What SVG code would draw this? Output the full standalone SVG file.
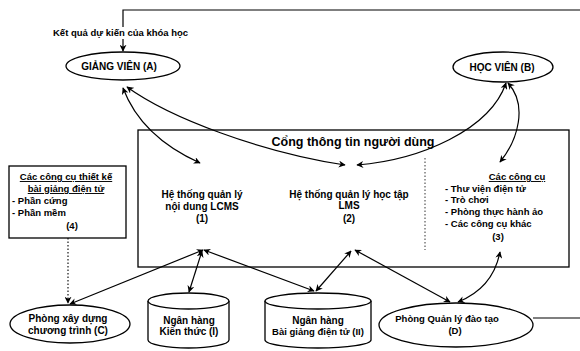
<svg xmlns="http://www.w3.org/2000/svg" width="580" height="351" viewBox="0 0 580 351">
<defs>
<marker id="arr" viewBox="0 0 10 10" refX="9" refY="5" markerWidth="7" markerHeight="7" orient="auto-start-reverse" markerUnits="userSpaceOnUse">
<path d="M0,0 L10,5 L0,10 L3,5 z" fill="#000"/>
</marker>
</defs>
<style>
text{font-family:"Liberation Sans",Arial,sans-serif;font-weight:bold;fill:#000;font-size:10px}
.c{text-anchor:middle}
.u{text-decoration:underline}
.s{font-size:9.5px}
.shape{fill:#fff;stroke:#000;stroke-width:1.3}
.ln{fill:none;stroke:#000;stroke-width:1.2}
.dot{fill:none;stroke:#000;stroke-width:0.8;stroke-dasharray:1.5,2}
.title{font-size:12.5px}
</style>
<rect width="580" height="351" fill="#fff"/>

<g id="portal">
<rect class="shape" x="138" y="130" width="431" height="137"/>
<text class="c title" x="353" y="146">Cổng thông tin người dùng</text>
<line class="dot" x1="425" y1="158" x2="425" y2="250"/>
</g>

<g id="lcms">
<text class="c" x="202" y="198">Hệ thống quản lý</text>
<text class="c" x="202" y="210">nội dung LCMS</text>
<text class="c" x="202" y="222">(1)</text>
</g>

<g id="lms">
<text class="c" x="349" y="198">Hệ thống quản lý học tập</text>
<text class="c" x="349" y="209">LMS</text>
<text class="c" x="349" y="222">(2)</text>
</g>

<g id="tools3">
<text class="c u s" x="517" y="180">Các công cụ</text>
<text class="s" x="445" y="192">- Thư viện điện tử</text>
<text class="s" x="445" y="203">- Trò chơi</text>
<text class="s" x="445" y="215">- Phòng thực hành ảo</text>
<text class="s" x="445" y="227">- Các công cụ khác</text>
<text class="c s" x="498" y="240">(3)</text>
</g>

<g id="tools4">
<rect class="shape" x="9" y="166" width="117" height="72"/>
<text class="c u s" x="66" y="180">Các công cụ thiết kế</text>
<text class="c u s" x="66" y="192">bài giảng điện tử</text>
<text class="s" x="12" y="204">- Phần cứng</text>
<text class="s" x="12" y="216">- Phần mềm</text>
<text class="c s" x="72" y="229">(4)</text>
</g>

<g id="giangvien">
<ellipse class="shape" cx="123" cy="66" rx="57" ry="14"/>
<text class="c" x="119" y="70">GIẢNG VIÊN (A)</text>
</g>

<g id="hocvien">
<ellipse class="shape" cx="503" cy="67" rx="50" ry="15"/>
<text class="c" x="502" y="71">HỌC VIÊN (B)</text>
</g>

<g id="phongxaydung">
<ellipse class="shape" cx="70" cy="324" rx="60" ry="19"/>
<text class="c" x="68" y="322">Phòng xây dựng</text>
<text class="c" x="68" y="334">chương trình (C)</text>
</g>

<g id="nganhang1">
<path class="shape" d="M148,301 V340 A40.5,8 0 0 0 229,340 V301"/>
<ellipse class="shape" cx="188.5" cy="301" rx="40.5" ry="8"/>
<text class="c" x="189" y="324">Ngân hàng</text>
<text class="c" x="189" y="335">Kiến thức (I)</text>
</g>

<g id="nganhang2">
<path class="shape" d="M265,301 V340 A53,8 0 0 0 371,340 V301"/>
<ellipse class="shape" cx="318" cy="301" rx="53" ry="8"/>
<text class="c" x="318" y="324">Ngân hàng</text>
<text class="c s" x="318" y="335">Bài giảng điện tử  (II)</text>
</g>

<g id="phongquanly">
<ellipse class="shape" cx="456" cy="325" rx="77" ry="22"/>
<text class="c s" x="447" y="322">Phòng Quản lý đào tạo</text>
<text class="c s" x="455" y="334">(D)</text>
</g>

<g id="labels">
<text class="s" x="53" y="36">Kết quả dự kiến của khóa học</text>
</g>

<g id="connectors">
<path class="ln" d="M123,27 V10 H580"/>
<path class="ln" d="M123,39 V51" marker-end="url(#arr)"/>
<path class="ln" d="M533,318 H580"/>
<path class="ln" d="M123,88 C135,120 160,145 200,163" marker-start="url(#arr)" marker-end="url(#arr)"/>
<path class="ln" d="M127,87 C170,118 260,152 345,165" marker-start="url(#arr)" marker-end="url(#arr)"/>
<path class="ln" d="M357,165 C420,160 490,130 506,83" marker-start="url(#arr)" marker-end="url(#arr)"/>
<path class="ln" d="M508,83 C528,105 518,140 500,162" marker-start="url(#arr)" marker-end="url(#arr)"/>
<path class="dot" d="M68,238 V303" style="stroke-width:1.1" marker-end="url(#arr)"/>
<line class="ln" x1="70" y1="304" x2="203" y2="250" marker-start="url(#arr)" marker-end="url(#arr)"/>
<line class="ln" x1="189" y1="292" x2="202" y2="251" marker-start="url(#arr)" marker-end="url(#arr)"/>
<line class="ln" x1="204" y1="250" x2="314" y2="291" marker-start="url(#arr)" marker-end="url(#arr)"/>
<line class="ln" x1="316" y1="291" x2="351" y2="251" marker-start="url(#arr)" marker-end="url(#arr)"/>
<line class="ln" x1="355" y1="250" x2="450" y2="302" marker-start="url(#arr)" marker-end="url(#arr)"/>
<path class="ln" d="M458,302 Q493,288 500,252" marker-start="url(#arr)" marker-end="url(#arr)"/>
</g>
</svg>
